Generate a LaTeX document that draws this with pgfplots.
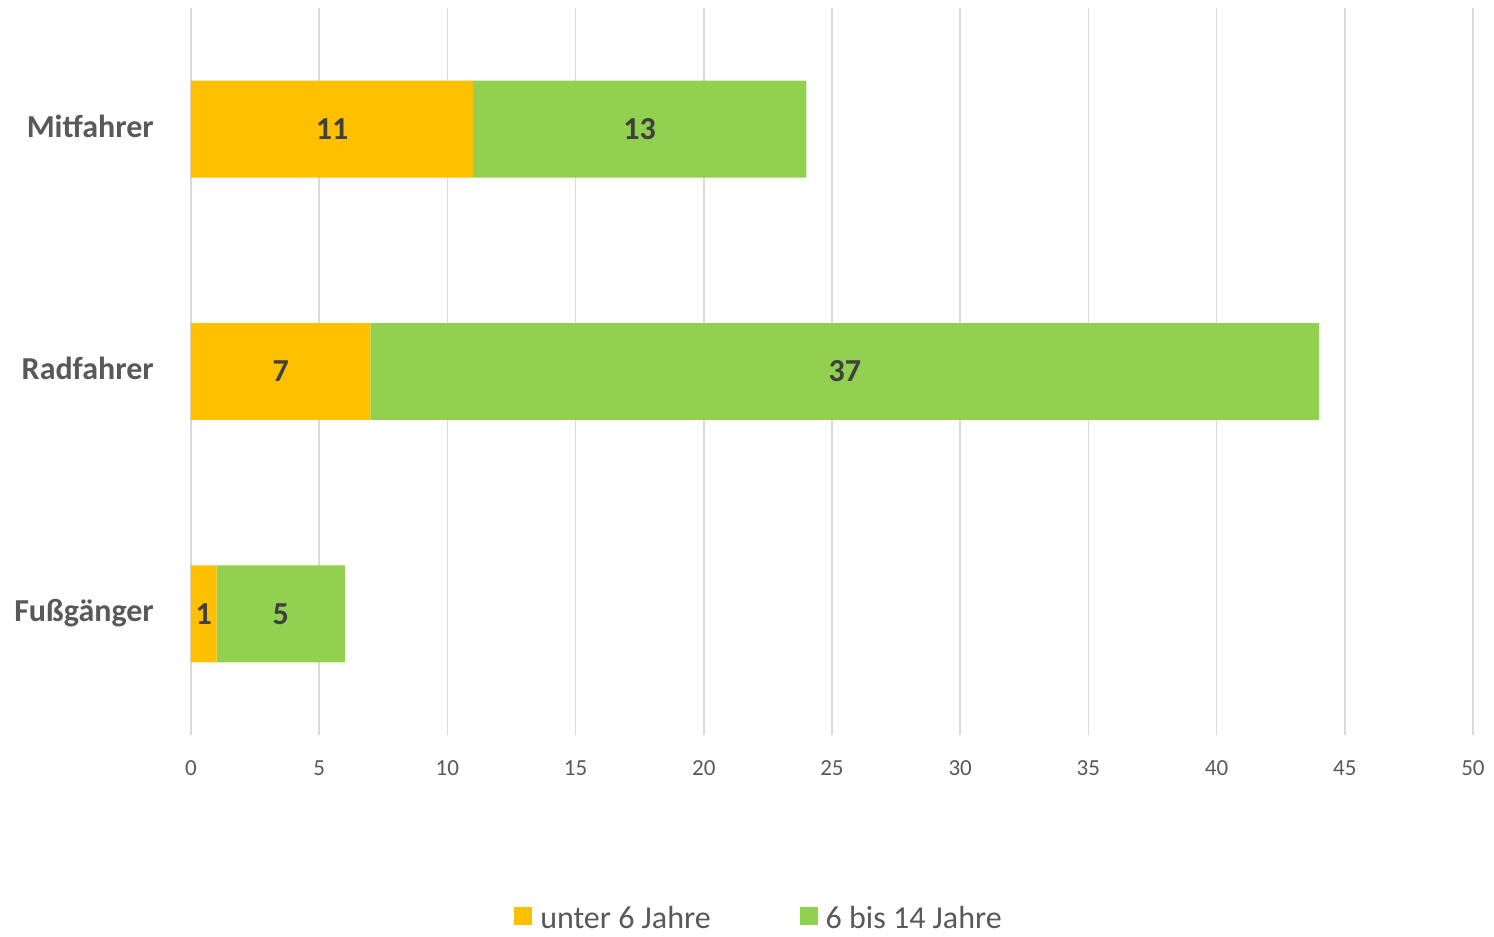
\documentclass[border=0pt]{standalone}
\usepackage{pgfplots}
\usepackage{pgfplotstable}
\pgfplotsset{compat=1.18}
\usepackage{fontspec}
\setmainfont{Carlito}
\definecolor{cOrange}{HTML}{FFC000}
\definecolor{cGreen}{HTML}{92D050}
\definecolor{cGrid}{HTML}{D9D9D9}
\definecolor{cTick}{HTML}{595959}
\definecolor{cLab}{HTML}{404040}

\pgfplotstableread{
y v
0 1
1 7
2 11
}\unter
\pgfplotstableread{
y v
0 5
1 37
2 13
}\sechs

\begin{document}
\begin{tikzpicture}
\begin{axis}[
  xbar stacked,
  bar width=0.4,
  scale only axis,
  width=1282bp, height=727bp,
  xmin=0, xmax=50, ymin=-0.5, ymax=2.5,
  xtick={0,5,...,50},
  ytick={0,1,2},
  yticklabels={Fußgänger,Radfahrer,Mitfahrer},
  xmajorgrids,
  grid style={color=cGrid, line width=1.5bp},
  axis line style={draw=none},
  major tick length=0pt,
  /pgf/number format/assume math mode=true,
  xticklabel style={font=\fontsize{23bp}{27bp}\selectfont, text=cTick, inner sep=0pt, anchor=base, yshift=-40bp},
  yticklabel style={font=\fontsize{32bp}{38bp}\selectfont\bfseries, text=cTick, inner sep=0pt, anchor=base east, xshift=-37bp, yshift=-8bp},
  point meta=explicit,
  nodes near coords,
  nodes near coords align={center},
  every node near coord/.append style={font=\fontsize{32bp}{38bp}\selectfont\bfseries, text=cLab, anchor=center},
  legend columns=2,
  legend style={draw=none, fill=none, inner sep=0pt, at={(0.252,-0.2517)}, anchor=west,
    font=\fontsize{32bp}{38bp}\selectfont, text=cTick,
    nodes={inner sep=0pt},
    /tikz/every odd column/.append style={column sep=8bp},
    /tikz/every even column/.append style={column sep=89bp}},
  legend image code/.code={\fill[#1] (0bp,-7bp) rectangle (18bp,11bp);},
]
\addplot[fill=cOrange, draw=none] table[x=v, y=y, meta=v] {\unter};
\addplot[fill=cGreen, draw=none] table[x=v, y=y, meta=v] {\sechs};
\legend{unter 6 Jahre, 6 bis 14 Jahre}
\coordinate (ll) at (rel axis cs:0,0);
\end{axis}
\path (ll) ++(-191bp,-202bp) rectangle ++(1494bp,937bp);
\end{tikzpicture}
\end{document}
